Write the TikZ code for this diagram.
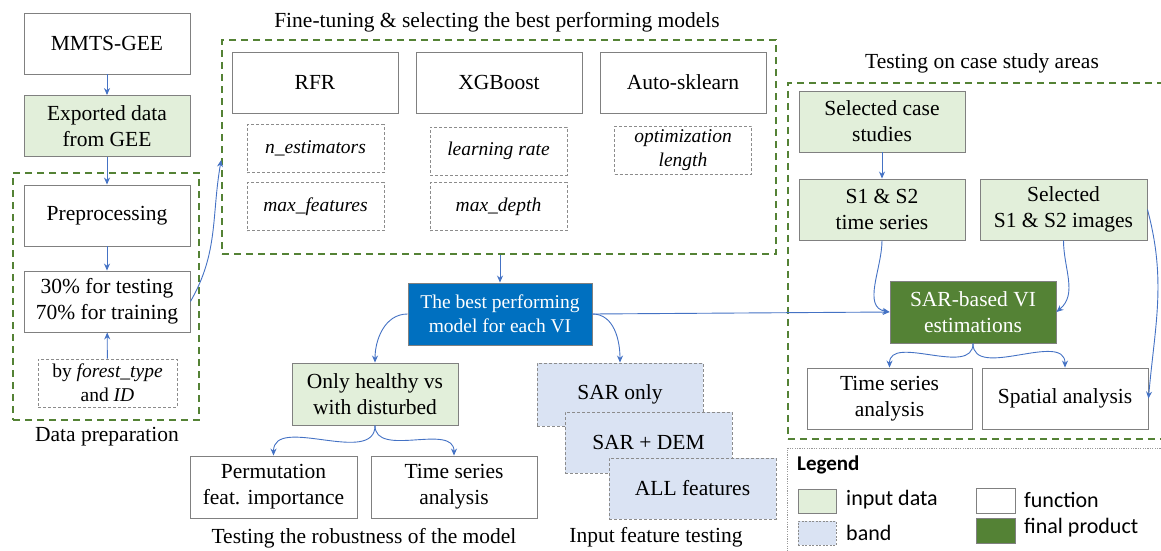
\documentclass[tikz,border=0pt]{standalone}
\usepackage{fontspec}
\setmainfont{Liberation Serif}
\newfontfamily\legfont{Carlito}
\usepackage{xcolor}
\usetikzlibrary{arrows.meta,positioning}
\definecolor{inputgreen}{HTML}{E2EFDA}
\definecolor{framegreen}{HTML}{548235}
\definecolor{modelblue}{HTML}{0070C0}
\definecolor{bandblue}{HTML}{DAE3F3}
\definecolor{arrowblue}{HTML}{4472C4}
\tikzset{
  box/.style={draw=black!50,line width=0.9pt,align=center,minimum width=166pt,
              minimum height=61pt,inner sep=3pt,font=\fontsize{21.5}{26}\selectfont},
  inp/.style={box,fill=inputgreen},               % input data
  fin/.style={box,fill=framegreen,text=white},    % final product
  band/.style={box,fill=bandblue,draw=black!45,dash pattern=on 3pt off 2pt},
  hyp/.style={draw=black!45,line width=0.7pt,dash pattern=on 3pt off 2pt,align=center,
              minimum width=137pt,minimum height=48pt,inner sep=2pt,
              font=\fontsize{19.5}{24}\selectfont},
  frame/.style={draw=framegreen,line width=1.6pt,dash pattern=on 7pt off 5pt,inner sep=0pt},
  ttl/.style={font=\fontsize{21.5}{26}\selectfont,inner sep=1pt},
  key/.style={draw=black!50,line width=0.9pt,minimum width=38pt,minimum height=24pt,inner sep=0pt},
  leg/.style={font=\legfont\fontsize{22}{26}\selectfont,anchor=west,inner sep=0pt},
  ar/.style={-{Stealth[length=7pt,width=6pt]},draw=arrowblue,line width=0.9pt}
}

\begin{document}
\begin{tikzpicture}[x=1pt,y=-1pt]
  \useasboundingbox (0,0) rectangle (1161,551);

  % data preparation
  \node[box] (mmts) at (107,43.5) {MMTS-GEE};
  \node[inp] (exported) at (107,126) {Exported data\\from GEE};
  \node[frame,minimum width=186pt,minimum height=247pt] (dataprep) at (106,296.5) {};
  \node[box] (prep) at (107,215.5) {Preprocessing};
  \node[box] (split) at (107,301.5) {30\% for testing\\70\% for training};
  \node[hyp,minimum width=139pt] (strat) at (107.5,383) {by \textit{forest\_type}\\and \textit{ID}};
  \node[ttl] (dpttl) at (107,437) {Data preparation};

  % fine-tuning
  \node[ttl] (tunettl) at (497,22) {Fine-tuning \& selecting the best performing models};
  \node[frame,minimum width=554pt,minimum height=214pt] (tune) at (499,147) {};
  \coordinate (tunein) at ([yshift=-13pt]tune.west);
  \node[box] (rfr) at (315,82.5) {RFR};
  \node[box] (xgb) at (499,82.5) {XGBoost};
  \node[box] (autosk) at (683,82.5) {Auto-sklearn};
  \node[hyp] (nest) at (315.5,148.5) {\textit{n\_estimators}};
  \node[hyp] (maxfeat) at (315.5,206.5) {\textit{max\_features}};
  \node[hyp] (lrate) at (498.5,151) {\textit{learning rate}};
  \node[hyp] (maxdepth) at (498.5,206.5) {\textit{max\_depth}};
  \node[hyp] (optlen) at (683,150) {\textit{optimization}\\\textit{length}};

  % best model and tests
  \node[box,fill=modelblue,text=white,minimum width=184pt,minimum height=62pt,
        font=\fontsize{19.5}{24}\selectfont] (best) at (500,314) {The best performing\\model for each VI};
  \node[inp,minimum height=62pt] (healthy) at (375,394) {Only healthy vs\\with disturbed};
  \node[box,minimum width=167pt,minimum height=62pt] (perm) at (273.5,487) {Permutation\\feat. importance};
  \node[box,minimum height=62pt] (tsb) at (454,487) {Time series\\analysis};
  \node[ttl] (robttl) at (364,538) {Testing the robustness of the model};
  \node[band,minimum height=63pt] (saronly) at (620,394.5) {SAR only};
  \node[band,minimum width=167pt] (sardem) at (648.5,442.5) {SAR + DEM};
  \node[band,minimum width=167pt] (allfeat) at (692.5,488.5) {ALL features};
  \node[ttl] (featttl) at (656,537) {Input feature testing};

  % case study areas
  \node[ttl] (casettl) at (982,63) {Testing on case study areas};
  \node[frame,minimum width=400pt,minimum height=356pt,anchor=north west] (casearea) at (787,82) {};
  \node[inp] (cases) at (882,121.5) {Selected case\\studies};
  \node[inp] (s12ts) at (882,209.5) {S1 \& S2\\time series};
  \node[inp,minimum width=167pt] (s12img) at (1063.5,209.5) {Selected\\S1 \& S2 images};
  \node[fin,minimum height=62pt] (sarvi) at (973,312) {SAR-based VI\\estimations};
  \node[box,minimum width=165pt] (tsa) at (889.5,398.5) {Time series\\analysis};
  \node[box] (spatial) at (1065,398.5) {Spatial analysis};

  % legend
  \node[draw=black!40,line width=0.8pt,dash pattern=on 1.2pt off 1.2pt,anchor=north west,
        minimum width=400pt,minimum height=130pt] (legend) at (787,448) {};
  \node[leg,font=\legfont\bfseries\fontsize{21}{25}\selectfont] (legttl) at (797,465) {Legend};
  \node[key,fill=inputgreen] (kinp) at (817,501) {};
  \node[key,fill=bandblue,draw=black!45,dash pattern=on 2pt off 1.5pt] (kband) at (817,533) {};
  \node[key,minimum width=39pt,minimum height=25pt] (kfun) at (995.5,500.5) {};
  \node[key,fill=framegreen,minimum width=39pt,minimum height=25pt] (kfin) at (995.5,530.5) {};
  \node[leg] (linp) at (846,500) {input data};
  \node[leg] (lband) at (846,533) {band};
  \node[leg] (lfun) at (1024,500) {function};
  \node[leg] (lfin) at (1024,528) {final product};

  % connectors
  \draw[ar] (mmts) -- (exported);
  \draw[ar] (exported) -- (prep);
  \draw[ar] (prep) -- (split);
  \draw[ar] (strat) -- (split);
  \draw[ar] (split.east) to[out=60,in=-100] (tunein);
  \draw[ar] (tune.south -| best.north) -- (best.north);
  \draw[ar] (best.west) to[out=180,in=90] (healthy.north);
  \draw[ar] (best.east) to[out=0,in=90] (saronly.north);
  \draw[ar] (best.east) -- (sarvi.west);
  \draw[ar] (healthy.south) to[out=-90,in=90] (perm.north);
  \draw[ar] (healthy.south) to[out=-90,in=90] (tsb.north);
  \draw[ar] (cases) -- (s12ts);
  \draw[ar] (s12ts.south) to[out=-90,in=170] (sarvi.west);
  \draw[ar] (s12img.south) to[out=-90,in=40] (sarvi.east);
  \draw[ar] (sarvi.south) to[out=-90,in=90] (tsa.north);
  \draw[ar] (sarvi.south) to[out=-90,in=90] (spatial.north);
  \draw[ar] (s12img.east) to[out=-75,in=85] (spatial.east);
\end{tikzpicture}
\end{document}
